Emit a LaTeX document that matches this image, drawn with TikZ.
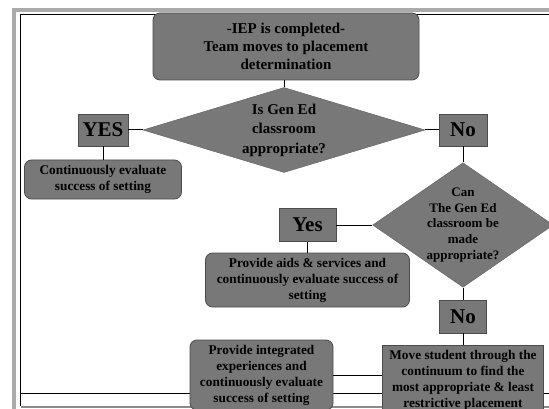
\documentclass[tikz,border=0pt]{standalone}
\usepackage{fontspec}
\setmainfont{Liberation Serif}
\usetikzlibrary{shapes.geometric,positioning}

\begin{document}
\begin{tikzpicture}[x=1pt,y=-1pt,
    box node/.style={rectangle,rounded corners=7pt,draw=black!70,fill=black!53,line width=0.8pt,
      align=center,inner sep=2pt,font=\color{black}\fontsize{13.3}{16}\selectfont\bfseries},
    answer node/.style={rectangle,draw=black!70,fill=black!53,line width=0.8pt,inner sep=0pt,
      font=\color{black}\fontsize{21}{24}\selectfont\bfseries},
    question node/.style={diamond,draw=black!60,fill=black!53,line width=0.5pt,inner sep=0pt,align=center}]

	\useasboundingbox (0,0) rectangle (549,409);

	% slide frame
	\draw[black!33,line width=4pt] (549,10.5) -- (14,10.5) -- (14,409);
	\draw[line width=1pt] (549,15) -- (20.5,15) -- (20.5,406);
	\draw[line width=1pt] (20.5,393) -- (549,393);
	\draw[black!45,line width=2pt] (20.5,406.5) -- (549,406.5);

		\node[box node,minimum width=266pt,minimum height=67pt,font=\color{black}\fontsize{15}{18}\selectfont\bfseries] (iep) at (286,46.5) {-IEP is completed-\\Team moves to placement\\determination};
		\node[question node,shape aspect=3.32,minimum width=282pt,minimum height=85pt,font=\color{black}\fontsize{15}{19.5}\selectfont\bfseries] (q1) at (284,130) {Is Gen Ed\\classroom\\appropriate?};
		\node[answer node,minimum width=50pt,minimum height=32pt] (yes1) at (103,130) {YES};
		\node[answer node,minimum width=48pt,minimum height=32pt] (no1) at (463,130) {No};
		\node[box node,minimum width=157pt,minimum height=39pt] (cont) at (103,179.5) {Continuously evaluate\\success of setting};
		\node[question node,shape aspect=1.45,minimum width=180pt,minimum height=124pt,font=\color{black}\fontsize{13}{15.75}\selectfont\bfseries] (q2) at (463,225) {Can\\The Gen Ed\\classroom be\\made\\appropriate?};
		\node[answer node,minimum width=57pt,minimum height=33pt] (yes2) at (307.5,225) {Yes};
		\node[box node,minimum width=204pt,minimum height=54pt] (aids) at (307.5,280) {Provide aids \& services and\\continuously evaluate success of\\setting};
		\node[answer node,minimum width=47pt,minimum height=33pt] (no2) at (463,316.5) {No};
		\node[box node,sharp corners,minimum width=161pt,minimum height=70pt] (move) at (463,380) {Move student through the\\continuum to find the\\most appropriate \& least\\restrictive placement};
		\node[box node,minimum width=143pt,minimum height=70pt] (integ) at (261.5,375) {Provide integrated\\experiences and\\continuously evaluate\\success of setting};

	\path[every edge/.style={draw,line width=1pt}]
		(iep.south -| q1.north) edge (q1.north)
		(yes1) edge (q1)
			edge (cont)
		(q1) edge (no1)
		(no1) edge (q2)
		(q2) edge (yes2)
			edge (no2)
		(yes2) edge (aids)
		(no2) edge (move)
		(integ.east) edge (integ.east -| move.west);

\end{tikzpicture}
\end{document}
